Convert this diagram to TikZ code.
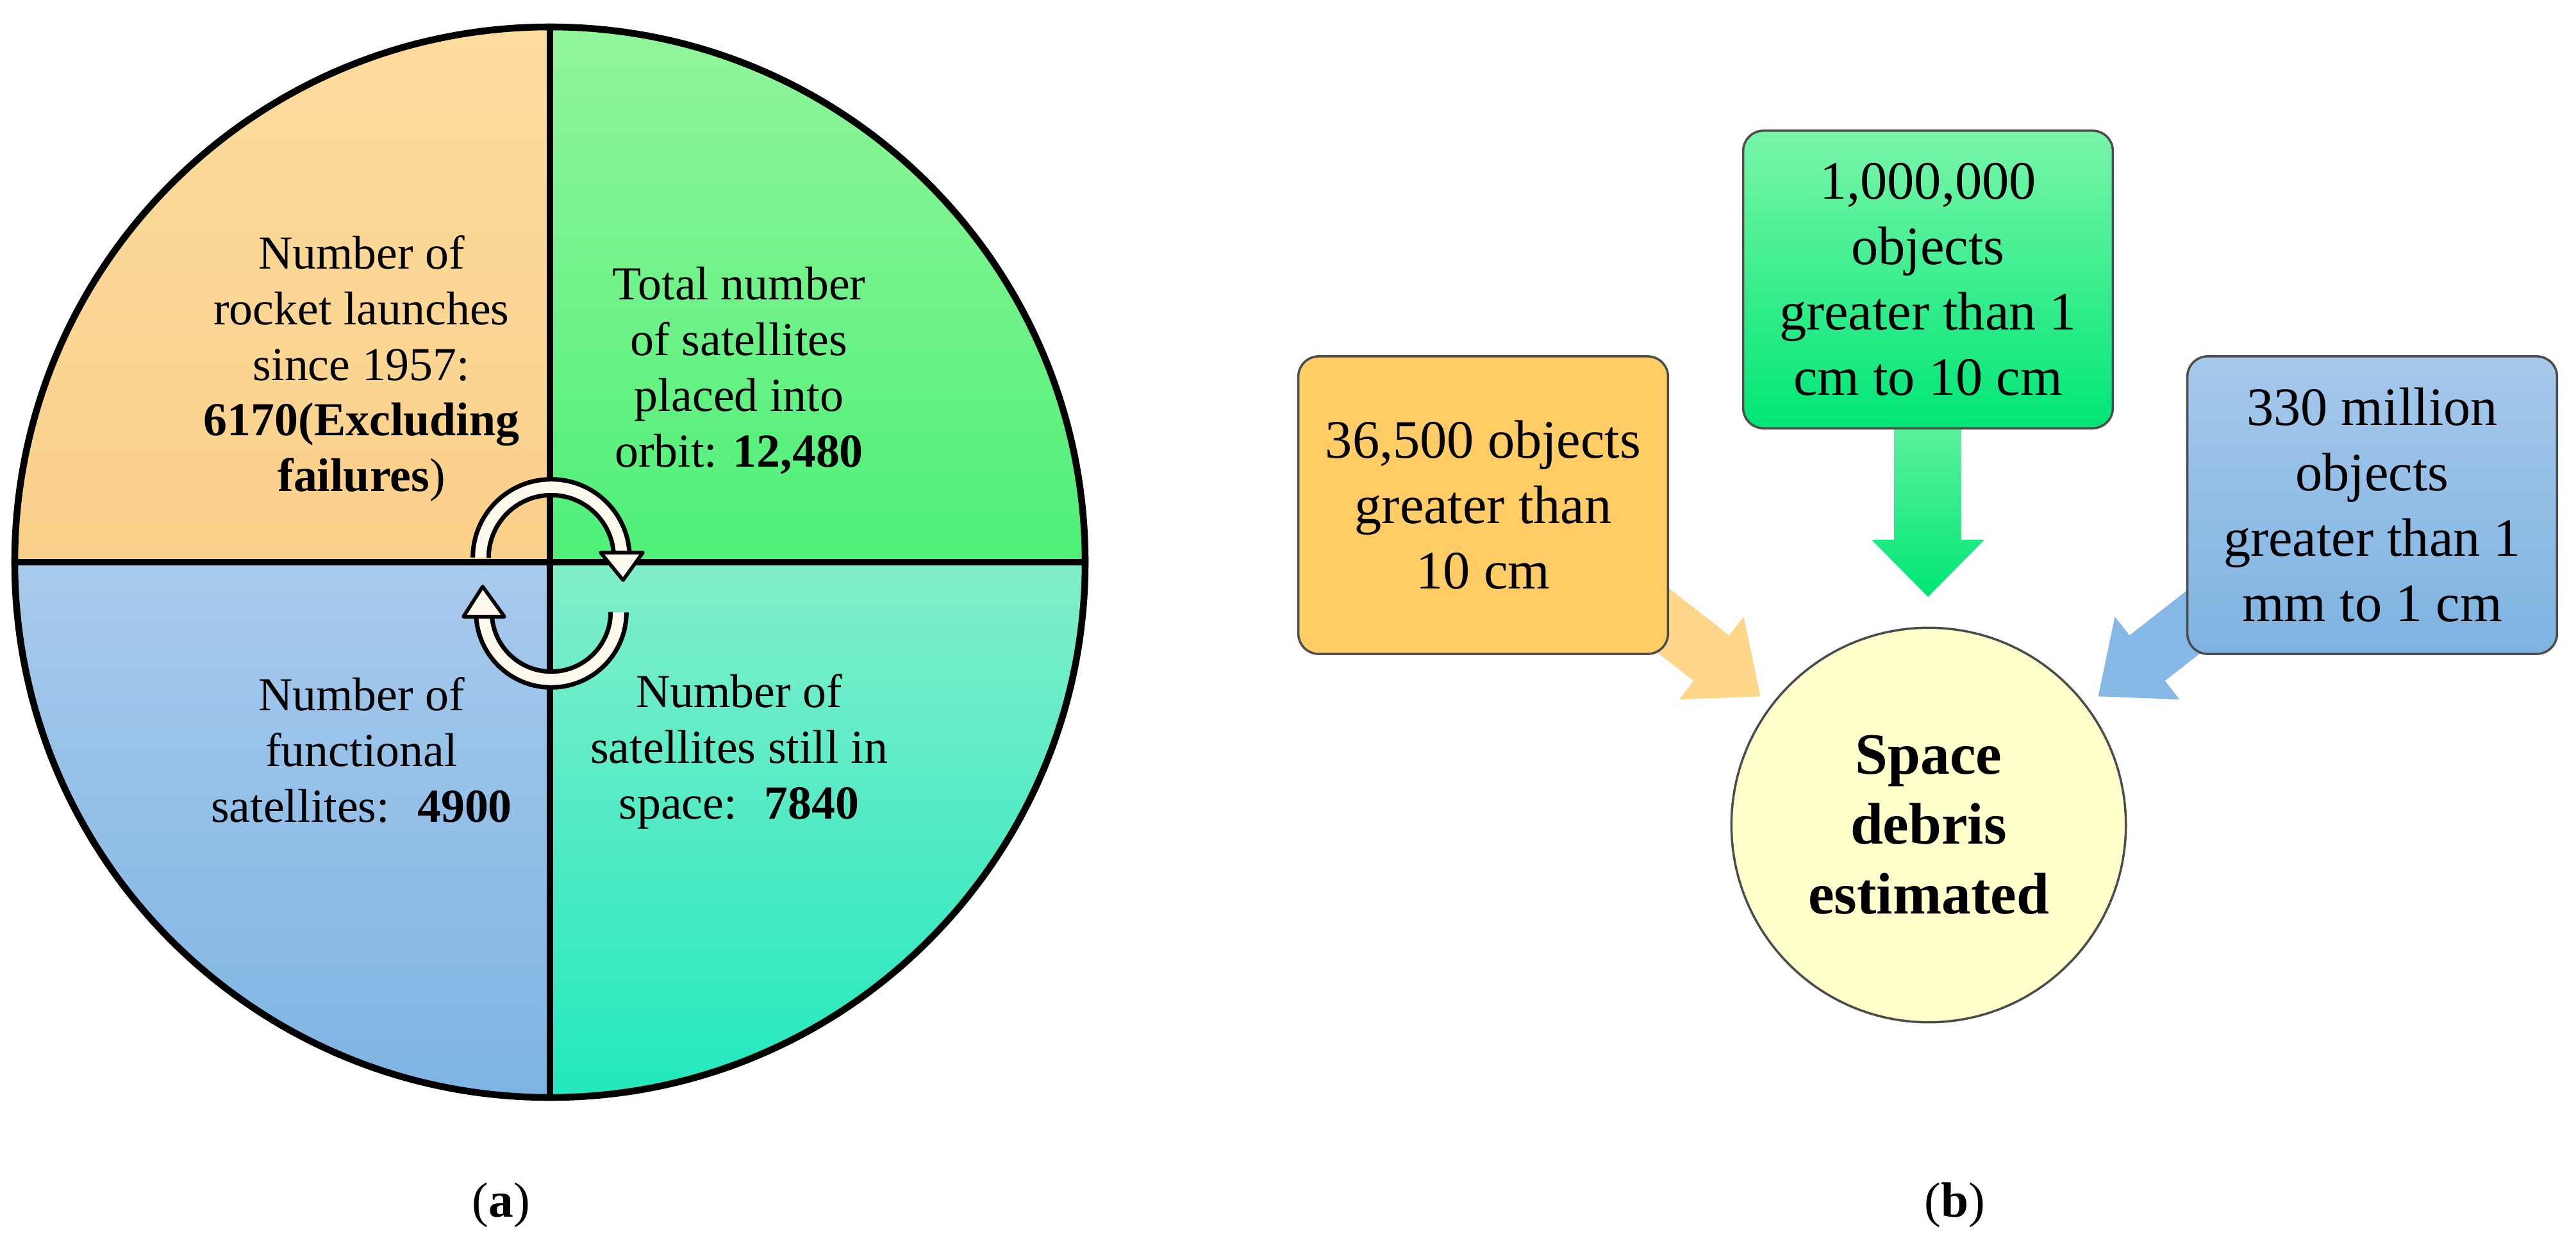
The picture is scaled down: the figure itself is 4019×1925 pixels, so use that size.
\documentclass[tikz,border=0pt]{standalone}
\usepackage{fontspec}
\setmainfont{Liberation Serif}
\definecolor{qTLa}{HTML}{FDDC9E}\definecolor{qTLb}{HTML}{F9D08A}
\definecolor{qTRa}{HTML}{92F59A}\definecolor{qTRb}{HTML}{4EF078}
\definecolor{qBLa}{HTML}{A8CAEC}\definecolor{qBLb}{HTML}{7DB4E3}
\definecolor{qBRa}{HTML}{82EECB}\definecolor{qBRb}{HTML}{22E8BE}
\definecolor{boxO}{HTML}{FFCC66}
\definecolor{boxGa}{HTML}{7AF5AA}\definecolor{boxGb}{HTML}{00E676}
\definecolor{boxBa}{HTML}{A6C8EB}\definecolor{boxBb}{HTML}{7EB3E1}
\definecolor{ell}{HTML}{FFFFCC}
\definecolor{arrO}{HTML}{FFD68A}\definecolor{arrB}{HTML}{86B8E6}
\definecolor{cream}{HTML}{FFF8EC}
\tikzset{
  pietext/.style={align=center,font=\fontsize{21}{24.7}\selectfont},
  infobox/.style={draw=black!70,line width=1pt,rounded corners=9pt,minimum width=164pt,minimum height=132pt,align=center,font=\fontsize{24}{29}\selectfont},
  capt/.style={font=\fontsize{22}{26}\selectfont}
}
\begin{document}
\begin{tikzpicture}[x=0.01cm,y=-0.01cm]
\useasboundingbox (0,0) rectangle (4019,1925);
% pie
\coordinate (c) at (858,877);
\shade[top color=qTLa,bottom color=qTLb] (c) -- (858,42) arc[start angle=270,end angle=180,radius=835] -- cycle;
\shade[top color=qTRa,bottom color=qTRb] (c) -- (858,42) arc[start angle=270,end angle=360,radius=835] -- cycle;
\shade[top color=qBLa,bottom color=qBLb] (c) -- (23,877) arc[start angle=180,end angle=90,radius=835] -- cycle;
\shade[top color=qBRa,bottom color=qBRb] (c) -- (1693,877) arc[start angle=0,end angle=90,radius=835] -- cycle;
\draw[line width=3pt] (c) circle[radius=835];
\draw[line width=3pt] (858,42) -- (858,1712);
\draw[line width=3pt] (23,877) -- (1693,877);
\node[pietext] (tl) at (564,575) {Number of\\rocket launches\\since 1957:\\\textbf{6170(Excluding}\\\textbf{failures})};
\node[pietext] (tr) at (1153,578) {Total number\\of satellites\\placed into\\orbit: \textbf{12,480}};
\node[pietext] (bl) at (564,1170) {Number of\\functional\\satellites:~ \textbf{4900}};
\node[pietext] (br) at (1153,1172) {Number of\\satellites still in\\space:~ \textbf{7840}};
% curved arrows
\draw[line width=9pt] (750,870) arc[start angle=180,end angle=360,radius=110];
\draw[line width=5pt,cream] (750,870) arc[start angle=180,end angle=360,radius=110];
\draw[line width=1.6pt,fill=cream,line join=round] (937,862) -- (1003,862) -- (972,905) -- cycle;
\draw[line width=9pt] (965,955) arc[start angle=0,end angle=180,radius=105];
\draw[line width=5pt,cream] (965,955) arc[start angle=0,end angle=180,radius=105];
\draw[line width=1.6pt,fill=cream,line join=round] (723,962) -- (787,962) -- (753,915) -- cycle;
% block arrows
\begin{scope}[shift={(2540,925)},rotate=-38]
\fill[arrO] (0,-45) -- (165,-45) -- (165,-82) -- (262,0) -- (165,82) -- (165,45) -- (0,45) -- cycle;
\end{scope}
\begin{scope}[shift={(3480,925)},rotate=-142]
\fill[arrB] (0,-45) -- (165,-45) -- (165,-82) -- (262,0) -- (165,82) -- (165,45) -- (0,45) -- cycle;
\end{scope}
\shade[top color=boxGa!80!boxGb,bottom color=boxGb] (2955,650) -- (2955,842) -- (2920,842) -- (3008,931) -- (3096,842) -- (3060,842) -- (3060,650) -- cycle;
% boxes
\node[infobox,fill=boxO] (ob) at (2314,788) {36,500 objects\\greater than\\10 cm};
\node[infobox,top color=boxGa,bottom color=boxGb] (gb) at (3008,436) {1,000,000\\objects\\greater than 1\\cm to 10 cm};
\node[infobox,top color=boxBa,bottom color=boxBb] (bb) at (3701,788) {330 million\\objects\\greater than 1\\mm to 1 cm};
\node[draw=black!70,line width=1pt,circle,fill=ell,minimum size=175pt,align=center,font=\fontsize{26}{31}\bfseries\selectfont] (sd) at (3009,1287) {Space\\debris\\estimated};
% captions
\node[capt] (ca) at (782,1880) {(\textbf{a})};
\node[capt] (cb) at (3050,1880) {(\textbf{b})};
\end{tikzpicture}
\end{document}
